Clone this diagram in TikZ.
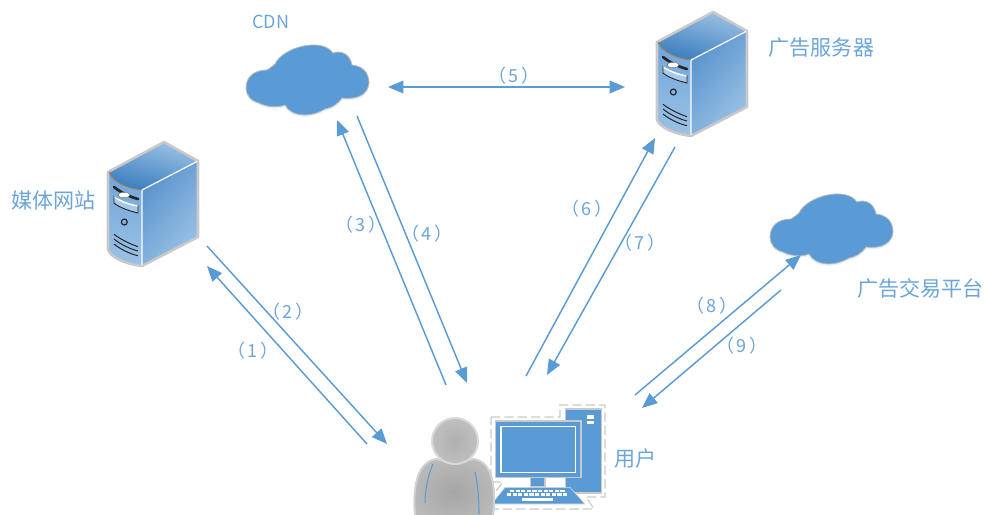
\documentclass[tikz,border=0pt]{standalone}
\usepackage{fontspec}
\setmainfont{Noto Sans CJK SC}
\usetikzlibrary{arrows.meta}
\definecolor{bl}{HTML}{5B9BD5}
\definecolor{txt}{HTML}{6BA5DA}
\definecolor{edgegray}{HTML}{C9C9C9}
\definecolor{srvdark}{HTML}{3A7DBE}
\definecolor{srvmid}{HTML}{6FA5DA}
\definecolor{srvlight}{HTML}{9CC2E5}
\tikzset{
  lbl/.style={text=txt,font=\fontsize{15.8}{18}\selectfont,inner sep=0pt},
  latin/.style={text=txt,font=\fontsize{13.5}{16}\selectfont,inner sep=0pt},
  num/.style={text=txt,font=\fontsize{13.5}{16}\selectfont,inner sep=0pt},
  link/.style={draw=bl,line width=1.1pt,-{Triangle[length=11.5pt,width=9.5pt]}},
  biglink/.style={draw=bl,line width=1.1pt,{Triangle[length=11.5pt,width=9.5pt]}-{Triangle[length=11.5pt,width=9.5pt]}},
  grill/.style={draw=black!85,line width=0.75pt},
}
\newcommand{\nn}[1]{（\kern2.2pt#1\kern2.2pt）}
\newcommand{\serverpic}{%
  \shade[top color=srvmid,bottom color=srvlight] (108,172) -- (142,190) -- (142,266) .. controls (125,264) and (112,258) .. (108,250) -- cycle;
  \shade[top color=srvlight,bottom color=srvdark,shading angle=-15] (108,172) -- (164,142) -- (198,161) -- (142,190) .. controls (125,188) and (113,182) .. (108,172) -- cycle;
  \shade[left color=srvdark!45!srvmid,right color=srvlight,shading angle=50] (142,190) -- (198,161) -- (198,237) -- (142,266) -- cycle;
  \draw[draw=edgegray,line width=1.9pt,line join=round] (108,172) -- (164,142) -- (198,161) -- (198,237) -- (142,266) .. controls (125,264) and (112,258) .. (108,250) -- cycle;
  \draw[white,line width=0.9pt] (197,161.5) -- (142,190) -- (142,265);
  \draw[brown!70!gray,line width=0.7pt] (109,172) .. controls (113,182) and (125,188) .. (142,190);
  \draw[black!85,line width=2pt,line cap=round] (114,187) .. controls (120,192) and (130,197) .. (138,199);
  \fill[white,draw=black!60,line width=0.3pt] (124,195) ellipse (4.5pt and 2pt);
  \fill[srvmid!60!white] (114,196) .. controls (120,200) and (130,204) .. (138,205) -- (138,213) .. controls (130,211) and (120,208) .. (114,203) -- cycle;
  \draw[white,line width=1pt] (114,197) .. controls (120,201) and (130,205) .. (138,206);
  \draw[black!85,line width=0.7pt] (114,196) -- (114,203) .. controls (120,208) and (130,211) .. (138,213) -- (138,205);
  \draw[black!85,line width=0.9pt] (124.3,222) circle (2.2pt);
  \draw[grill] (114,234.3) .. controls (120,239) and (130,244) .. (138,246.7);
  \draw[grill] (114,239) .. controls (120,244) and (130,249) .. (138,251);
  \draw[grill] (114,244) .. controls (120,249) and (130,254) .. (138,255.7);
}
\newcommand{\cloudpic}{%
  \path[fill=bl!14!white,shift={(0,2)}] \cloudpath;
  \path[fill=bl,draw=gray!55,line width=0.6pt] \cloudpath;
}
\newcommand{\cloudpath}{%
  (246,88) .. controls (246,77) and (254,70) .. (267,70)
  .. controls (270,68) and (273,66) .. (275,64)
  .. controls (283,47) and (322,37) .. (333,53)
  .. controls (341,50) and (350,54) .. (352,65)
  .. controls (362,66) and (369,72) .. (369,83)
  .. controls (368,94) and (358,100) .. (342,98)
  .. controls (337,105) and (331,108) .. (325,109)
  .. controls (312,117) and (292,118) .. (285,105)
  .. controls (278,108) and (266,107) .. (259,103)
  .. controls (251,101) and (246,95) .. (246,88) -- cycle}
\begin{document}
\begin{tikzpicture}[x=0.75pt,y=-0.75pt]
\useasboundingbox (0,0) rectangle (984,514);
% servers
\serverpic
\begin{scope}[shift={(549,-130)}]\serverpic\end{scope}
% clouds
\cloudpic
\begin{scope}[shift={(524,149)}]\cloudpic\end{scope}
% computer
\draw[edgegray,line width=0.9pt,dash pattern=on 7pt off 3pt] (491,417) -- (560,417) -- (560,405) -- (605,405) -- (605,497) -- (586,497) -- (594,509) -- (482,509) -- (503,482) -- (491,482) -- cycle;
\fill[bl,draw=edgegray,line width=0.9pt] (565.7,409) rectangle (601.7,493);
\fill[white] (587,415) rectangle (594,418.5);
\fill[white] (587,421) rectangle (594,424);
\fill[bl,draw=edgegray,line width=0.9pt] (530.7,477.7) rectangle (545,487);
\fill[bl,draw=edgegray,line width=0.9pt] (495.7,421) rectangle (581,477.7);
\draw[white,line width=0.8pt] (501,426.7) rectangle (575.7,472.3);
\fill[bl,draw=edgegray!60,line width=0.4pt] (505,487.3) -- (570,487.3) -- (585,504) -- (491.7,504) -- cycle;
\draw[white,line width=2pt,dash pattern=on 3.2pt off 1pt] (510,491) -- (565,491);
\draw[white,line width=2pt,dash pattern=on 3.2pt off 1pt] (507,494.8) -- (568,494.8);
\draw[white,line width=2pt] (522,499.5) -- (553,499.5);
% user
\begin{scope}
\clip (0,0) rectangle (984,514);
\shade[inner color=gray!70,outer color=gray!55,draw=gray!35,line width=1.5pt] (416,525) .. controls (412,495) and (414,463) .. (436,459) .. controls (448,462) and (462,462) .. (474,459) .. controls (496,463) and (496,495) .. (492,525) -- cycle;
\shade[inner color=gray!62,outer color=gray!50,draw=gray!30,line width=1.5pt] (455,441) circle [radius=23];
\draw[bl,line width=0.8pt] (433,464) .. controls (428,475) and (425,490) .. (425,503);
\draw[bl,line width=0.8pt] (475,472) .. controls (478,485) and (479,500) .. (479,514);
\end{scope}
% text
\node[lbl,anchor=west] (media) at (11.5,200) {媒体网站};
\node[latin,anchor=west] (cdn) at (252,22) {CDN};
\node[lbl,anchor=west] (adsrv) at (768.5,48) {广告服务器};
\node[lbl,anchor=west] (adx) at (857,288) {广告交易平台};
\node[lbl,anchor=west] (user) at (614,458) {用户};
% connector ends
\coordinate (a1) at (367,444); \coordinate (b1) at (207,266);
\coordinate (a2) at (207,246); \coordinate (b2) at (387,444);
\coordinate (a3) at (446,385); \coordinate (b3) at (337,120);
\coordinate (a4) at (357,116); \coordinate (b4) at (467,383);
\coordinate (a5) at (388,87);  \coordinate (b5) at (625,87);
\coordinate (a6) at (526,376); \coordinate (b6) at (655,138);
\coordinate (a7) at (675,147); \coordinate (b7) at (547,375);
\coordinate (a8) at (635,395); \coordinate (b8) at (801,255);
\coordinate (a9) at (781,290); \coordinate (b9) at (642,408);
\draw[link] (a1) -- (b1);
\draw[link] (a2) -- (b2);
\draw[link] (a3) -- (b3);
\draw[link] (a4) -- (b4);
\draw[biglink] (a5) -- (b5);
\draw[link] (a6) -- (b6);
\draw[link] (a7) -- (b7);
\draw[link] (a8) -- (b8);
\draw[link] (a9) -- (b9);
\node[num] (n1) at (253,351) {\nn{1}};
\node[num] (n2) at (288,312) {\nn{2}};
\node[num] (n3) at (361,225) {\nn{3}};
\node[num] (n4) at (427,234) {\nn{4}};
\node[num] (n5) at (514,76) {\nn{5}};
\node[num] (n6) at (587,209) {\nn{6}};
\node[num] (n7) at (640,243) {\nn{7}};
\node[num] (n8) at (712,306) {\nn{8}};
\node[num] (n9) at (742,346) {\nn{9}};
\end{tikzpicture}
\end{document}
